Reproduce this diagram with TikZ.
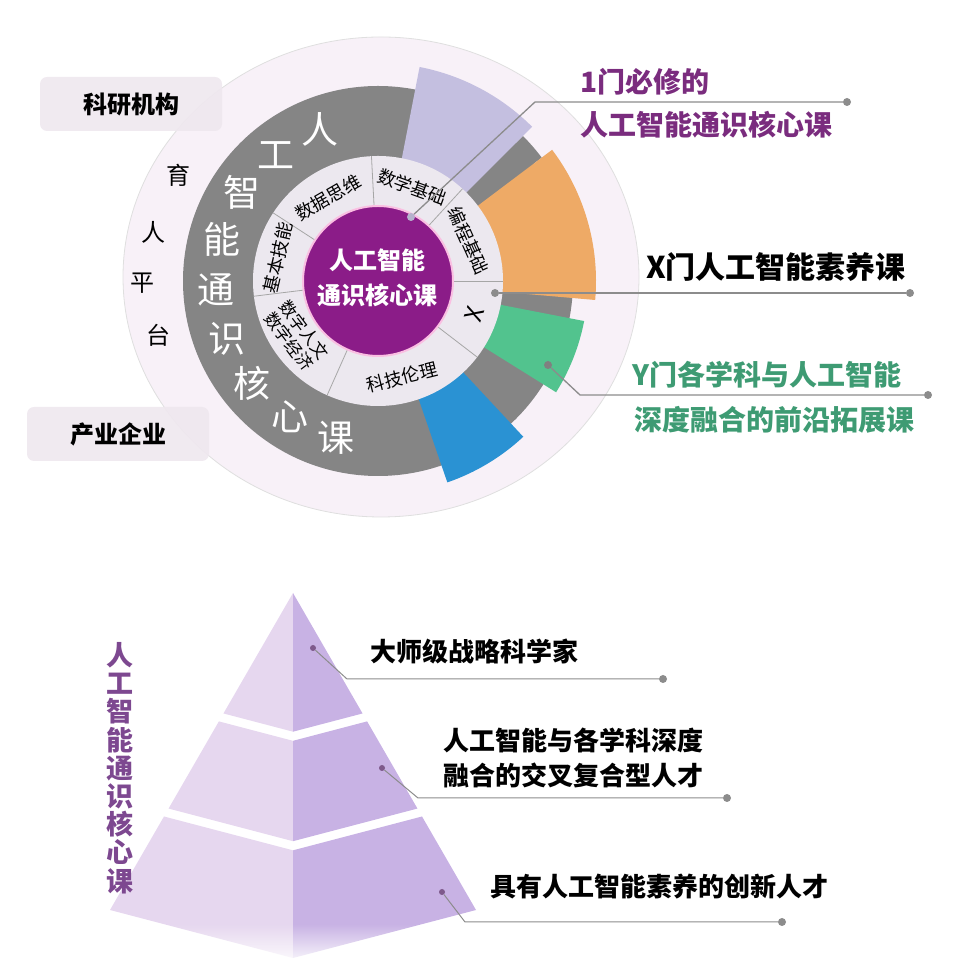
\documentclass[tikz,border=0pt]{standalone}
\usepackage{fontspec}
\setmainfont{Noto Sans CJK SC}
\usetikzlibrary{positioning,calc,fadings}
\definecolor{outerc}{HTML}{F8F1F8}
\definecolor{boxc}{HTML}{EFE8EF}
\definecolor{ringc}{HTML}{858585}
\definecolor{innerc}{HTML}{ECE8EF}
\definecolor{corec}{HTML}{8B1C88}
\definecolor{lavc}{HTML}{C4BFE0}
\definecolor{orac}{HTML}{EEAA66}
\definecolor{grnc}{HTML}{52C38E}
\definecolor{bluc}{HTML}{2A92D3}
\definecolor{purtxt}{HTML}{7A2C7E}
\definecolor{grntxt}{HTML}{3E9B73}
\definecolor{pyrtxt}{HTML}{7D4890}
\definecolor{linec}{HTML}{8C8C8C}
\definecolor{pyrl}{HTML}{E6D7EF}
\definecolor{pyrr}{HTML}{C8B2E4}
\newcommand{\setfs}[2]{\fontsize{#1}{#2}\selectfont}
\newcommand{\ringsector}[4]{\fill[#1] (c) -- +(#2:#4) arc[start angle=#2,end angle=#3,radius=#4] -- cycle;}
\tikzfading[name=fadebase, top color=transparent!100, bottom color=transparent!0]

\begin{document}
\begin{tikzpicture}[x=1pt,y=1pt,
  ptr/.style={draw=linec,line width=1.3pt},
  dotm/.style={circle,fill=linec,inner sep=0pt,minimum size=8pt},
  pbox/.style={fill=boxc,fill opacity=0.92,text opacity=1,rounded corners=7pt,minimum width=182pt,minimum height=54pt,inner sep=0pt,font=\bfseries\setfs{24}{28}},
  ringch/.style={text=white,font=\setfs{37}{40},inner sep=0pt},
  seglbl/.style={font=\setfs{18}{20},inner sep=0pt},
  lbl/.style={anchor=west,inner sep=0pt,font=\bfseries\setfs{28}{32}},
  plbl/.style={anchor=west,inner sep=0pt,align=left,font=\bfseries\setfs{26}{35}},
  divl/.style={draw=gray!70,line width=0.8pt}]
  \useasboundingbox (0,0) rectangle (956,966);
  \coordinate (c) at (378,685);

  \fill[outerc] (381,689) ellipse[x radius=258,y radius=240];
  \draw[gray!25,line width=0.8pt] (381,689) ellipse[x radius=258,y radius=240];
  \node[pbox] (kyjg) at (131,862) {科研机构};
  \node[pbox] (cyqy) at (118,532) {产业企业};
  \node[font=\setfs{24}{26},inner sep=0pt] (yu) at (178,791) {育};
  \node[font=\setfs{24}{26},inner sep=0pt] (ren) at (153,734) {人};
  \node[font=\setfs{24}{26},inner sep=0pt] (ping) at (142,683) {平};
  \node[font=\setfs{24}{26},inner sep=0pt] (tai) at (158,631) {台};

  \fill[ringc] (c) circle[radius=195];
  \ringsector{ringc}{37}{45}{205}
  \ringsector{lavc}{45}{79}{218}
  \ringsector{orac}{-5}{37}{218}
  \ringsector{grnc}{-32}{-11}{210}
  \ringsector{bluc}{-71}{-47}{213}
  \foreach \ch [count=\i from 0, evaluate=\i as \a using 111+18*\i] in {人,工,智,能,通,识,核,心,课}
    \node[ringch] (g\i) at ($(c)+(\a:162)$) {\ch};

  \fill[innerc] (c) circle[radius=125];
  \foreach \a in {93,47.5,0,-37.5,-114,187,147}
    \draw[divl] ($(c)+(\a:74)$) -- ($(c)+(\a:125)$);
  \node[seglbl,rotate=-20] (sxjc) at ($(c)+(70:100)$) {数学基础};
  \node[seglbl,rotate=-66] (bcjc) at ($(c)+(24:99)$) {编程基础};
  \node[seglbl,rotate=71,font=\setfs{24}{26}] (xx) at ($(c)+(-19:102)$) {X};
  \node[seglbl,rotate=14] (kjll) at ($(c)+(-76:99)$) {科技伦理};
  \node[seglbl,rotate=-53,align=center,font=\setfs{17}{19}] (szrw) at ($(c)+(-146:98)$) {数字人文\\数字经济};
  \node[seglbl,rotate=77] (jbjn) at ($(c)+(167:103)$) {基本技能};
  \node[seglbl,rotate=30] (sjsw) at ($(c)+(121:97)$) {数据思维};

  \node[circle,fill=corec,draw=magenta!25,line width=2pt,minimum size=150pt,inner sep=0pt] (core) at (c) {};
  \node[text=white,align=center,font=\bfseries\setfs{24}{35},inner sep=0pt] (coretxt) at (377,688) {人工智能\\通识核心课};

  \coordinate (b1) at (535,864);
  \node[dotm,fill=lavc!80!gray] (d1) at (411,749) {};
  \node[dotm] (e1) at (847,864) {};
  \draw[ptr] (d1) -- (b1) -- (e1);
  \node[lbl,text=purtxt] (t1a) at (580,884) {1门必修的};
  \node[lbl,text=purtxt] (t1b) at (580,841) {人工智能通识核心课};

  \node[dotm] (d2) at (495,673) {};
  \node[dotm] (e2) at (910,673) {};
  \draw[ptr] (d2) -- (e2);
  \node[lbl,font=\bfseries\setfs{30}{32}] (t2) at (646,699) {X门人工智能素养课};

  \coordinate (b3) at (580,571);
  \node[dotm,fill=gray] (d3) at (548,601) {};
  \node[dotm] (e3) at (928,571) {};
  \draw[ptr] (d3) -- (b3) -- (e3);
  \node[lbl,text=grntxt] (t3a) at (632,591) {Y门各学科与人工智能};
  \node[lbl,text=grntxt] (t3b) at (634,546) {深度融合的前沿拓展课};

  \coordinate (A) at (293,373);
  \coordinate (L) at (110,56);
  \coordinate (C) at (293,8);
  \coordinate (R) at (476,56);
  \foreach \ta/\tb in {0/0.38,0.405/0.68,0.705/1} {
    \fill[pyrl] ($(A)!\ta!(L)$) -- ($(A)!\tb!(L)$) -- ($(A)!\tb!(C)$) -- ($(A)!\ta!(C)$) -- cycle;
    \fill[pyrr] ($(A)!\ta!(R)$) -- ($(A)!\tb!(R)$) -- ($(A)!\tb!(C)$) -- ($(A)!\ta!(C)$) -- cycle;
  }
  \fill[white,path fading=fadebase] (90,0) rectangle (500,42);
  \node[pyrtxt,text=pyrtxt,align=center,inner sep=0pt,font=\bfseries\setfs{27}{28.2}] (vt) at (120,198) {人\\工\\智\\能\\通\\识\\核\\心\\课};

  \coordinate (p1) at (347,287);
  \node[dotm,fill=pyrtxt!70!gray,minimum size=6pt] (q1) at (313,318) {};
  \node[dotm] (r1) at (663,287) {};
  \draw[ptr,line width=1pt] (q1) -- (p1) -- (r1);
  \node[plbl] (s1) at (370,314) {大师级战略科学家};

  \coordinate (p2) at (418,168);
  \node[dotm,fill=pyrtxt!70!gray,minimum size=6pt] (q2) at (382,198) {};
  \node[dotm] (r2) at (727,168) {};
  \draw[ptr,line width=1pt] (q2) -- (p2) -- (r2);
  \node[plbl] (s2) at (443,208) {人工智能与各学科深度\\融合的交叉复合型人才};

  \coordinate (p3) at (465,44);
  \node[dotm,fill=pyrtxt!70!gray,minimum size=6pt] (q3) at (442,74) {};
  \node[dotm] (r3) at (782,44) {};
  \draw[ptr,line width=1pt] (q3) -- (p3) -- (r3);
  \node[plbl] (s3) at (490,79) {具有人工智能素养的创新人才};
\end{tikzpicture}
\end{document}
